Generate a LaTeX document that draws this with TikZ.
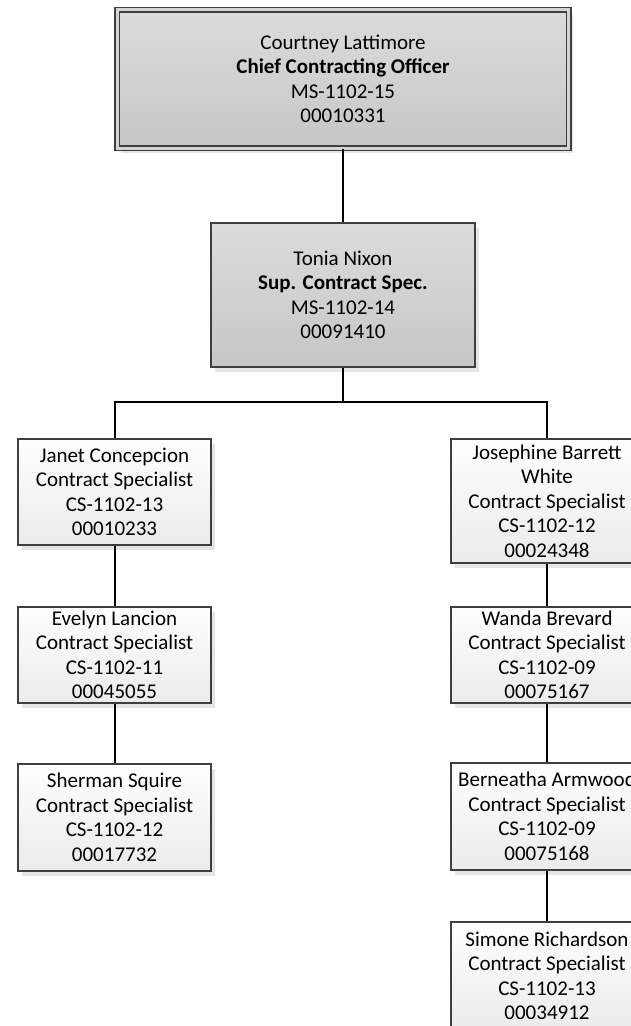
\documentclass[tikz,border=0pt]{standalone}
\usepackage{fontspec}
\setmainfont{Carlito}
\usetikzlibrary{shadows}

\definecolor{edgegray}{HTML}{3F3F3F}
\definecolor{topA}{HTML}{DCDCDC}
\definecolor{topB}{HTML}{C6C6C6}
\definecolor{gapgray}{HTML}{D4D4D4}
\definecolor{staffA}{HTML}{FEFEFE}
\definecolor{staffB}{HTML}{EBEBEB}

\tikzset{
  card/.style={draw=edgegray, line width=2pt, rectangle, inner sep=0pt,
    align=center, font=\fontsize{21}{24.5}\selectfont,
    drop shadow={shadow xshift=4pt, shadow yshift=-5pt, fill=black, opacity=0.10}},
  mgrcard/.style={card, top color=topA, bottom color=topB},
  staffcard/.style={card, top color=staffA, bottom color=staffB,
    minimum width=193pt},
  link/.style={line width=2pt, draw=black}
}

\begin{document}
\begin{tikzpicture}[x=1pt, y=-1pt]
  \useasboundingbox (0,0) rectangle (631,1026);
  \clip (0,0) rectangle (631,1026);

  % management chain
  \node[mgrcard, line width=1.5pt, double=gapgray, double distance=3pt,
        minimum width=451.5pt, minimum height=138.5pt] (ceo) at (343,79)
    {Courtney Lattimore\\\textbf{Chief Contracting Officer}\\MS-1102-15\\00010331};
  \node[mgrcard, minimum width=264pt, minimum height=144pt] (sup) at (343,295)
    {Tonia Nixon\\\textbf{Sup. Contract Spec.}\\MS-1102-14\\00091410};

  % left column
  \node[staffcard, minimum height=106pt] (janet) at (114.5,492)
    {Janet Concepcion\\Contract Specialist\\CS-1102-13\\00010233};
  \node[staffcard, minimum height=96pt] (evelyn) at (114.5,655)
    {Evelyn Lancion\\Contract Specialist\\CS-1102-11\\00045055};
  \node[staffcard, minimum height=107pt] (sherman) at (114.5,817.5)
    {Sherman Squire\\Contract Specialist\\CS-1102-12\\00017732};

  % right column
  \node[staffcard, minimum height=124pt] (josephine) at (547,501)
    {Josephine Barrett\\White\\Contract Specialist\\CS-1102-12\\00024348};
  \node[staffcard, minimum height=96pt] (wanda) at (547,655)
    {Wanda Brevard\\Contract Specialist\\CS-1102-09\\00075167};
  \node[staffcard, minimum height=107pt] (berneatha) at (547,816.5)
    {Berneatha Armwood\\Contract Specialist\\CS-1102-09\\00075168};
  \node[staffcard, minimum height=108pt] (simone) at (547,976)
    {Simone Richardson\\Contract Specialist\\CS-1102-13\\00034912};

  % reporting lines
  \coordinate (bus) at (343,402);
  \draw[link] (ceo) -- (sup);
  \draw[link] (sup) -- (bus);
  \draw[link] (janet.north) |- (bus) -| (josephine.north);
  \draw[link] (janet) -- (evelyn);
  \draw[link] (evelyn) -- (sherman);
  \draw[link] (josephine) -- (wanda);
  \draw[link] (wanda) -- (berneatha);
  \draw[link] (berneatha) -- (simone);
\end{tikzpicture}
\end{document}
